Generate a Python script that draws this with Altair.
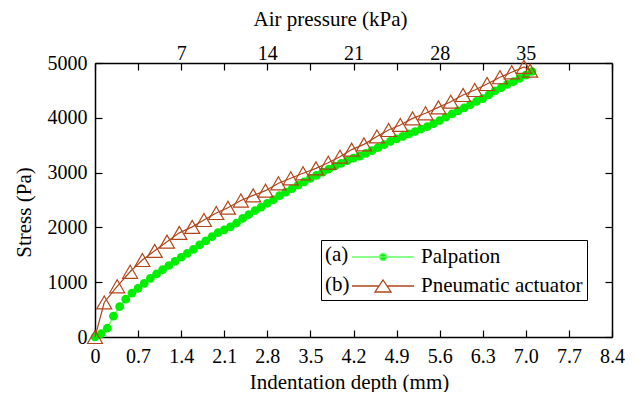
import altair as alt
import pandas as pd

# ---------------- data ----------------
series_names = ["Palpation", "Pneumatic actuator"]
series_tags = ["(a)", "(b)"]

palp_depth = [0.0, 0.1, 0.2, 0.3, 0.4, 0.5, 0.6, 0.7, 0.8, 0.9,
              1.0, 1.1, 1.2, 1.3, 1.4, 1.5, 1.6, 1.7, 1.8, 1.9,
              2.0, 2.1, 2.2, 2.3, 2.4, 2.5, 2.6, 2.7, 2.8, 2.9,
              3.0, 3.1, 3.2, 3.3, 3.4, 3.5, 3.6, 3.7, 3.8, 3.9,
              4.0, 4.1, 4.2, 4.3, 4.4, 4.5, 4.6, 4.7, 4.8, 4.9,
              5.0, 5.1, 5.2, 5.3, 5.4, 5.5, 5.6, 5.7, 5.8, 5.9,
              6.0, 6.1, 6.2, 6.3, 6.4, 6.5, 6.6, 6.7, 6.8, 6.9,
              7.0, 7.1]
palp_stress = [0, 60, 160, 380, 553, 690, 800, 888, 980, 1070,
               1150, 1230, 1305, 1380, 1455, 1525, 1600, 1680, 1755, 1830,
               1905, 1955, 2010, 2080, 2165, 2235, 2305, 2370, 2440, 2505,
               2580, 2645, 2705, 2770, 2830, 2895, 2950, 3010, 3065, 3120,
               3170, 3220, 3265, 3300, 3350, 3400, 3455, 3510, 3570, 3615,
               3660, 3705, 3750, 3795, 3840, 3895, 3950, 4010, 4070, 4125,
               4180, 4240, 4300, 4350, 4420, 4490, 4550, 4610, 4660, 4720,
               4780, 4845]

act_depth = [0.0, 0.15, 0.36, 0.57, 0.77, 0.97, 1.17, 1.37, 1.58, 1.77,
             1.97, 2.16, 2.37, 2.57, 2.77, 2.98, 3.18, 3.38, 3.59, 3.79,
             3.98, 4.17, 4.37, 4.58, 4.77, 4.96, 5.16, 5.37, 5.58, 5.78,
             5.98, 6.17, 6.37, 6.58, 6.77, 6.97, 7.07]
act_stress = [0, 630, 925, 1190, 1405, 1572, 1740, 1900, 2010, 2135,
              2263, 2360, 2490, 2585, 2670, 2805, 2896, 2987, 3078, 3181,
              3290, 3420, 3515, 3660, 3777, 3869, 3990, 4082, 4191, 4294,
              4416, 4507, 4617, 4740, 4830, 4930, 4860]

depth_ticks = [0, 0.7, 1.4, 2.1, 2.8, 3.5, 4.2, 4.9, 5.6, 6.3, 7.0, 7.7, 8.4]
pressure_ticks_mm = [1.4, 2.8, 4.2, 5.6, 7.0]   # 7, 14, 21, 28, 35 kPa
stress_ticks = [0, 1000, 2000, 3000, 4000, 5000]

# ---------------- styling ----------------
FONT = "Liberation Serif"
GREEN = "#00ee00"
LIGHTGREEN = "#66ff66"
BROWN = "#b0461a"
W, H = 517, 274

df = pd.DataFrame({
    "series": [series_names[0]] * len(palp_depth) + [series_names[1]] * len(act_depth),
    "depth": palp_depth + act_depth,
    "stress": palp_stress + act_stress,
})

xscale = alt.Scale(domain=[0, 8.4], nice=False, zero=False)
yscale = alt.Scale(domain=[0, 5000], nice=False)

common_lab = dict(labelFont=FONT, labelColor="black", labelFlush=False, labelOverlap=False, grid=False)
common_tit = dict(titleFont=FONT, titleFontSize=21, titleFontWeight="normal", titleColor="black")

ax_bottom = alt.Axis(orient="bottom", values=depth_ticks, ticks=False, tickSize=0, domain=True,
                     domainColor="black", domainWidth=1.5,
                     labelExpr="datum.value == 0 ? '0' : format(datum.value, '.1f')",
                     labelFontSize=20, labelBaseline="alphabetic", labelPadding=25,
                     title="Indentation depth (mm)", titleX=254, titleY=51,
                     titleBaseline="alphabetic", titleAlign="center", **common_lab, **common_tit)
ax_top = alt.Axis(orient="top", values=pressure_ticks_mm, ticks=False, tickSize=0, domain=True,
                  domainColor="black", domainWidth=1.5,
                  labelExpr="format(datum.value * 5, 'd')",
                  labelFontSize=20, labelBaseline="alphabetic", labelPadding=4,
                  title="Air pressure (kPa)", titleX=235, titleY=-38,
                  titleBaseline="alphabetic", titleAlign="center", **common_lab, **common_tit)
ax_left = alt.Axis(orient="left", values=stress_ticks, ticks=False, tickSize=0, domain=True,
                   domainColor="black", domainWidth=1.5, format="d",
                   labelFontSize=20, labelPadding=8, labelBaseline="middle",
                   title="Stress (Pa)", titleX=-65, titleY=149, titleAngle=270,
                   titleBaseline="alphabetic", titleAlign="center", **common_lab, **common_tit)
ax_right = alt.Axis(orient="right", values=stress_ticks, ticks=False, labels=False, domain=True,
                    domainColor="black", domainWidth=1.5, grid=False, title=None)

tick_style = dict(labels=False, domain=False, ticks=True, tickSize=7, tickColor="black",
                  tickWidth=1.2, grid=False, title=None)
ax_tick_bottom = alt.Axis(orient="top", offset=-H, values=depth_ticks, **tick_style)
ax_tick_top = alt.Axis(orient="bottom", offset=-H, values=depth_ticks, **tick_style)
ax_tick_left = alt.Axis(orient="right", offset=-W, values=stress_ticks, **tick_style)
ax_tick_right = alt.Axis(orient="left", offset=-W, values=stress_ticks, **tick_style)


def xy(xaxis, yaxis):
    return dict(x=alt.X("depth:Q", scale=xscale, axis=xaxis),
                y=alt.Y("stress:Q", scale=yscale, axis=yaxis))


base = alt.Chart(df)
palp = base.transform_filter(alt.datum.series == series_names[0])
act = base.transform_filter(alt.datum.series == series_names[1])

l1 = palp.mark_line(color=LIGHTGREEN, strokeWidth=1.5).encode(**xy(ax_bottom, ax_left))
l2 = palp.mark_circle(color=GREEN, size=76, opacity=1).encode(**xy(ax_top, ax_right))
l3 = act.mark_line(color=BROWN, strokeWidth=1.2).encode(**xy(ax_tick_bottom, ax_tick_left))
l4 = act.mark_point(shape="triangle-up", color=BROWN, filled=False, size=225,
                    strokeWidth=1.2, opacity=1).encode(**xy(ax_tick_top, ax_tick_right))

# legend: symbol = line sample with its marker (symbol diameter 24 px -> unit 12 px)
path_a = ("M-1,0H4.17"
          "M1.875,0C1.875,0.16,1.745,0.29,1.585,0.29C1.425,0.29,1.295,0.16,1.295,0"
          "C1.295,-0.16,1.425,-0.29,1.585,-0.29C1.745,-0.29,1.875,-0.16,1.875,0Z")
path_b = "M-1,0H1.25M1.92,0H4.17M1.585,-0.5L2.255,0.5L0.915,0.5Z"

leg = alt.Legend(orient="none", legendX=226, legendY=177,
                 title=series_tags, titleOrient="left", titleFont=FONT, titleFontSize=21,
                 titleFontWeight="normal", titleColor="black", titleLineHeight=30,
                 titleBaseline="top", titleAnchor="start", titlePadding=1,
                 padding=4, strokeColor="black", fillColor="white", cornerRadius=0,
                 symbolSize=576, symbolStrokeWidth=1.3,
                 labelFont=FONT, labelFontSize=21, labelColor="black", labelOffset=44,
                 labelLimit=400, rowPadding=6)

l5 = base.transform_filter("false").mark_point(opacity=1, strokeWidth=1.3).encode(
    x=alt.X("depth:Q", scale=xscale, axis=None),
    y=alt.Y("stress:Q", scale=yscale, axis=None),
    shape=alt.Shape("series:N", scale=alt.Scale(domain=series_names, range=[path_a, path_b]), legend=leg),
    fill=alt.Fill("series:N", scale=alt.Scale(domain=series_names, range=[GREEN, "white"]), legend=leg),
    stroke=alt.Stroke("series:N", scale=alt.Scale(domain=series_names, range=[LIGHTGREEN, BROWN]), legend=leg),
)

chart = alt.layer(l1, l2, l3, l4, l5).resolve_axis(x="independent", y="independent").properties(
    width=W, height=H,
    autosize=alt.AutoSizeParams(type="none"),
    padding={"left": 87, "top": 55, "right": 17, "bottom": 55},
    background="white",
).configure_view(stroke=None)

chart.save("out.html", embed_options={"renderer": "svg", "actions": False})
